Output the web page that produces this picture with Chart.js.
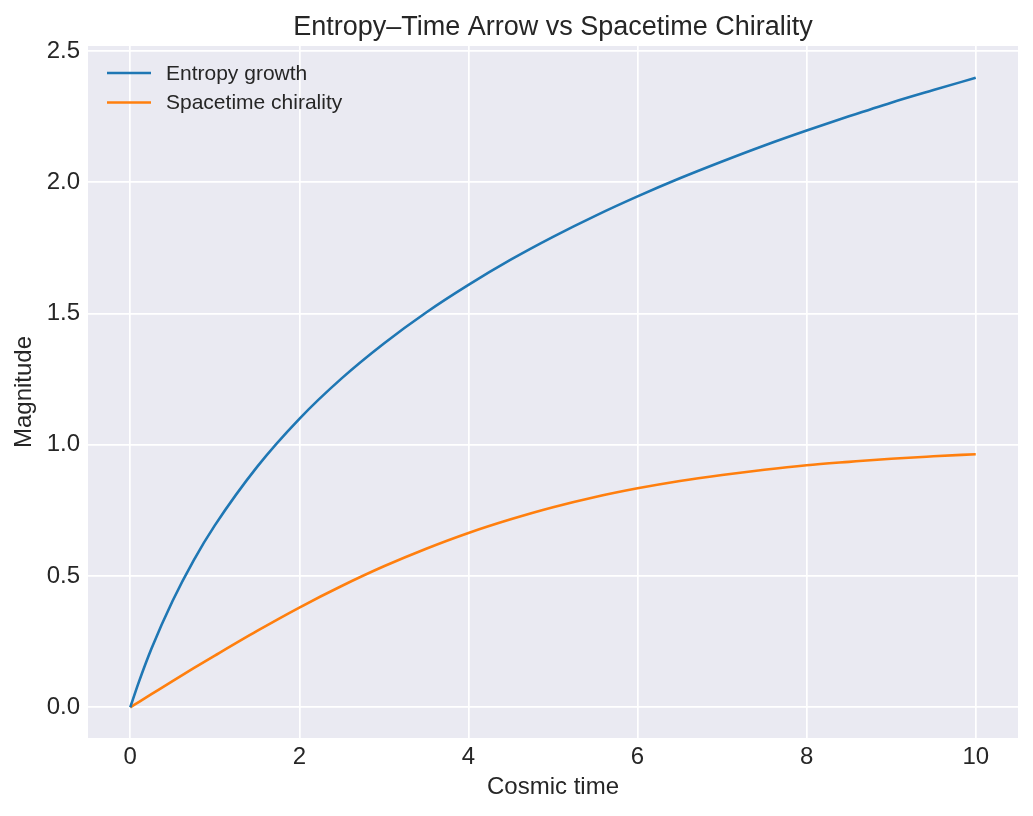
<!DOCTYPE html>
<html>
<head>
<meta charset="utf-8">
<script src="https://cdn.jsdelivr.net/npm/chart.js@4"></script>
<style>
    html, body { margin: 0; padding: 0; background: #ffffff; }
    #wrap { width: 1033px; height: 816px; }
</style>
</head>
<body>
<div id="wrap"><canvas id="chart" width="1033" height="816"></canvas></div>
<script>
// values
let cosmicTime = [0, 0.1, 0.25, 0.5, 0.75, 1, 1.5, 2, 2.5, 3, 3.5, 4, 4.5, 5, 5.5, 6, 6.5, 7, 7.5, 8, 8.5, 9, 9.5, 10];
let entropyGrowth = [0, 0.095, 0.223, 0.405, 0.560, 0.693, 0.916, 1.099, 1.253, 1.386, 1.504, 1.609, 1.705, 1.792, 1.872, 1.946, 2.015, 2.079, 2.140, 2.197, 2.251, 2.303, 2.351, 2.398];
let spacetimeChirality = [0, 0.020, 0.050, 0.100, 0.149, 0.197, 0.291, 0.380, 0.462, 0.537, 0.604, 0.664, 0.716, 0.762, 0.801, 0.834, 0.862, 0.885, 0.905, 0.922, 0.935, 0.947, 0.956, 0.964];
let xTicks = [0, 2, 4, 6, 8, 10];
let yTicks = [0, 0.5, 1.0, 1.5, 2.0, 2.5];

let font = "'Liberation Sans', Arial, sans-serif";
let textColor = '#262626';

function points(ys) {
    return cosmicTime.map(function (t, i) { return { x: t, y: ys[i] }; });
}

let plotBackground = {
    id: 'plotBackground',
    beforeDraw: function (chart) {
        let a = chart.chartArea;
        let ctx = chart.ctx;
        ctx.save();
        ctx.fillStyle = '#eaeaf2';
        ctx.fillRect(a.left, a.top, a.right - a.left, a.bottom - a.top);
        ctx.restore();
    }
};

// matplotlib style legend sitting inside the plot, top left
let innerLegend = {
    id: 'innerLegend',
    afterDatasetsDraw: function (chart) {
        let a = chart.chartArea;
        let ctx = chart.ctx;
        ctx.save();
        ctx.font = '21px ' + font;
        ctx.textBaseline = 'middle';
        chart.data.datasets.forEach(function (ds, i) {
            let y = a.top + 27 + i * 29.5;
            ctx.strokeStyle = ds.borderColor;
            ctx.lineWidth = 2.6;
            ctx.beginPath();
            ctx.moveTo(a.left + 19, y);
            ctx.lineTo(a.left + 63, y);
            ctx.stroke();
            ctx.fillStyle = textColor;
            ctx.fillText(ds.label, a.left + 78, y + 1);
        });
        ctx.restore();
    }
};

let chart = new Chart(document.getElementById('chart').getContext('2d'), {
    type: 'line',
    data: {
        datasets: [{
            label: 'Entropy growth',
            data: points(entropyGrowth),
            borderColor: '#1f77b4',
            borderWidth: 2.6,
            pointRadius: 0,
            cubicInterpolationMode: 'monotone'
        }, {
            label: 'Spacetime chirality',
            data: points(spacetimeChirality),
            borderColor: '#ff7f0e',
            borderWidth: 2.6,
            pointRadius: 0,
            cubicInterpolationMode: 'monotone'
        }]
    },
    options: {
        responsive: false,
        animation: false,
        layout: { padding: { left: 0, right: 15, top: 0, bottom: 0 } },
        plugins: {
            legend: { display: false },
            tooltip: { enabled: false },
            title: {
                display: true,
                fullSize: false,
                text: 'Entropy\u2013Time Arrow vs Spacetime Chirality',
                color: textColor,
                font: { family: font, size: 27, weight: 'normal' },
                padding: { top: 11, bottom: 2.6 }
            }
        },
        scales: {
            x: {
                type: 'linear',
                min: -0.5,
                max: 10.5,
                afterFit: function (scale) { scale.height = 78; },
                afterBuildTicks: function (scale) {
                    scale.ticks = xTicks.map(function (v) { return { value: v }; });
                },
                border: { display: false },
                grid: { color: '#ffffff', lineWidth: 1.7, drawTicks: false },
                ticks: {
                    color: textColor,
                    font: { family: font, size: 24 },
                    padding: 5,
                    maxRotation: 0
                },
                title: {
                    display: true,
                    text: 'Cosmic time',
                    color: textColor,
                    font: { family: font, size: 24 },
                    padding: { top: 0, bottom: 14 }
                }
            },
            y: {
                type: 'linear',
                min: -0.117,
                max: 2.519,
                afterFit: function (scale) { scale.width = 88; },
                afterBuildTicks: function (scale) {
                    scale.ticks = yTicks.map(function (v) { return { value: v }; });
                },
                border: { display: false },
                grid: { color: '#ffffff', lineWidth: 1.7, drawTicks: false },
                ticks: {
                    color: textColor,
                    font: { family: font, size: 24 },
                    padding: 8,
                    callback: function (v) { return v.toFixed(1); }
                },
                title: {
                    display: true,
                    text: 'Magnitude',
                    color: textColor,
                    font: { family: font, size: 24 },
                    padding: { top: 10, bottom: 0 }
                }
            }
        }
    },
    plugins: [plotBackground, innerLegend]
});
</script>
</body>
</html>
